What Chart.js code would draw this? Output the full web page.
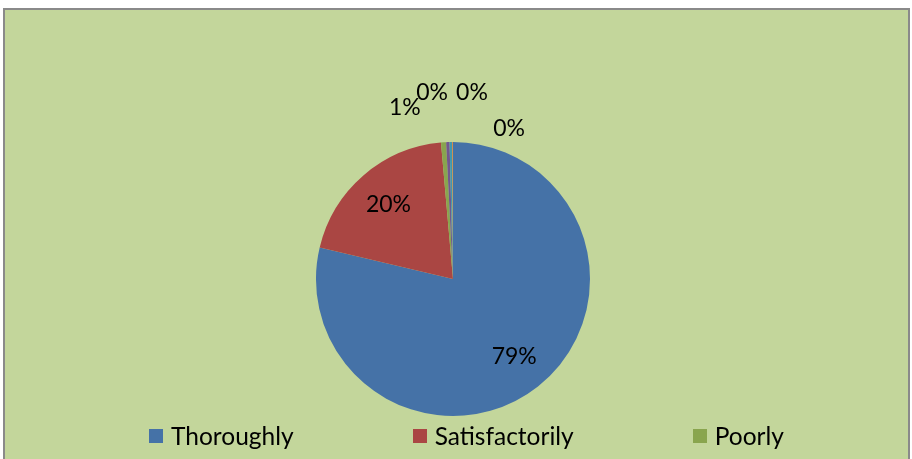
<!DOCTYPE html>
<html>
<head>
<meta charset="utf-8">
<script src="https://cdn.jsdelivr.net/npm/chart.js@4/dist/chart.umd.min.js"></script>
<style>
  html, body { margin: 0; padding: 0; background: #fff; }
  body { width: 912px; height: 459px; position: relative; overflow: hidden; font-family: Lato, "Open Sans", sans-serif; }
  .frame {
    position: absolute; left: 3px; top: 8px; width: 903px; height: 470px;
    background: #c3d69b; border: 2px solid #8a8a8a;
  }
  #pieCanvas { position: absolute; left: 0; top: 0; }
  .legend {
    position: absolute; left: 149px; top: 421px;
    display: flex; gap: 119px; align-items: center;
    font-size: 24.5px; color: #000;
  }
  .legend .item { display: flex; align-items: center; }
  .legend .swatch { width: 14px; height: 14px; margin-right: 8px; }
</style>
</head>
<body>
<div class="frame"></div>
<canvas id="pieCanvas" width="912" height="459"></canvas>
<div class="legend" id="legend"></div>

<script>
// chart data
const categories = ["Thoroughly", "Satisfactorily", "Poorly", "Very poorly", "Not at all", "No answer"];
const shares = [78.7, 19.9, 0.6, 0.4, 0.3, 0.1];
const sliceColors = ["#4572a7", "#aa4643", "#89a54e", "#71588f", "#4198af", "#db843d"];
// only the first three made it into the visible legend
const legendCount = 3;

// where the outside labels of the thin slices sit: [angle from top in degrees, radius factor]
const thinLabelSpots = [[-15.7, 1.30], [-6.4, 1.37], [5.8, 1.37], [20.5, 1.17]];

// Draws percentage labels, inside for big slices, pushed outward for the thin ones
const percentLabels = {
  id: "percentLabels",
  afterDatasetsDraw(chart) {
    const ctx = chart.ctx;
    const meta = chart.getDatasetMeta(0);
    const data = chart.data.datasets[0].data;
    const total = data.reduce((a, b) => a + b, 0);
    ctx.save();
    ctx.font = "23px Lato";
    ctx.fillStyle = "#000";
    ctx.textAlign = "center";
    ctx.textBaseline = "middle";
    let thin = 0;
    meta.data.forEach((arc, i) => {
      const pct = Math.round(data[i] / total * 100) + "%";
      const { x, y, outerRadius, startAngle, endAngle } = arc.getProps(["x", "y", "outerRadius", "startAngle", "endAngle"], true);
      let ang, r;
      if (data[i] / total > 0.05) {
        ang = (startAngle + endAngle) / 2;
        r = outerRadius * 0.72;
      } else {
        const spot = thinLabelSpots[thin++] || [0, 1.3];
        ang = spot[0] * Math.PI / 180 - Math.PI / 2;
        r = outerRadius * spot[1];
      }
      ctx.fillText(pct, x + Math.cos(ang) * r, y + Math.sin(ang) * r);
    });
    ctx.restore();
  }
};

const chart = new Chart(document.getElementById("pieCanvas"), {
  type: "pie",
  data: {
    labels: categories,
    datasets: [{
      data: shares,
      backgroundColor: sliceColors,
      borderWidth: 0
    }]
  },
  options: {
    responsive: false,
    animation: false,
    layout: { padding: { left: 316, right: 322, top: 142, bottom: 43 } },
    plugins: {
      legend: { display: false },
      tooltip: { enabled: false }
    }
  },
  plugins: [percentLabels]
});

// HTML legend built from the chart's own labels and colours
const legendEl = document.getElementById("legend");
legendEl.innerHTML = categories.slice(0, legendCount).map((name, i) => `
  <div class="item"><span class="swatch" style="background:${sliceColors[i]}"></span>${name}</div>
`).join("");
</script>
</body>
</html>
